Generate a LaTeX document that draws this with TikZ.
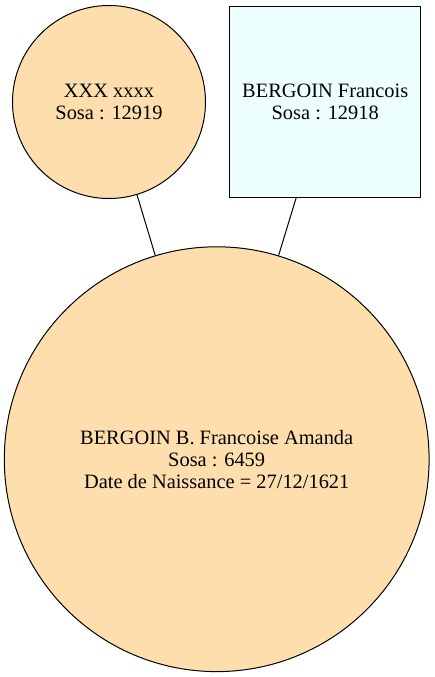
\documentclass[tikz,border=0pt]{standalone}
\usepackage{fontspec}
\setmainfont{Liberation Serif}
\definecolor{personfill}{HTML}{FFDEAD}
\definecolor{malefill}{HTML}{EEFFFF}
\begin{document}
\begin{tikzpicture}[x=1pt,y=-1pt,
  every node/.style={font=\fontsize{20.4}{22}\selectfont, align=center, inner sep=0pt, draw=black, line width=1pt},
  circ/.style={circle, fill=personfill},
  sq/.style={rectangle, fill=malefill},
  link/.style={draw=black, line width=1pt}]
\useasboundingbox (0,0) rectangle (435,677);
\node[circ, minimum size=193pt] (mother) at (109,102) {XXX xxxx\\Sosa : 12919};
\node[sq, minimum width=191.5pt, minimum height=190.6pt] (father) at (325.2,102) {BERGOIN Francois\\Sosa : 12918};
\node[circ, minimum size=424.8pt] (child) at (216.7,459.2) {BERGOIN B. Francoise Amanda\\Sosa : 6459\\Date de Naissance = 27/12/1621};
\draw[link] (mother) -- (child);
\draw[link] (father) -- (child);
\end{tikzpicture}
\end{document}
